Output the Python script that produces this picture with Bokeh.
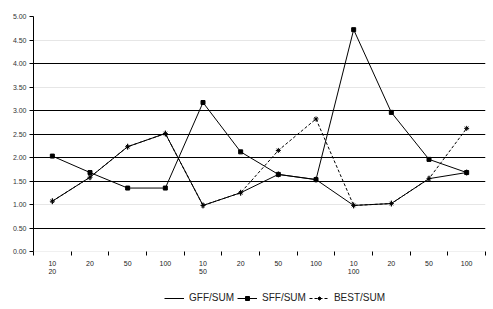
from bokeh.plotting import figure
from bokeh.layouts import column
from bokeh.models import (ColumnDataSource, FixedTicker, NumeralTickFormatter, Legend,
                          LegendItem, Range1d, Grid)
from bokeh.embed import file_html
from bokeh.resources import INLINE

categories = ["10\n20", "20", "50", "100", "10\n50", "20", "50", "100",
              "10\n100", "20", "50", "100"]
gff_sum = [1.07, 1.58, 2.23, 2.51, 0.98, 1.25, 1.64, 1.53, 0.98, 1.02, 1.55, 1.68]
sff_sum = [2.03, 1.68, 1.35, 1.35, 3.17, 2.12, 1.64, 1.53, 4.72, 2.96, 1.96, 1.68]
best_sum = [1.07, 1.58, 2.23, 2.51, 0.98, 1.25, 2.15, 2.82, 0.98, 1.02, 1.55, 2.62]
series_names = ["GFF/SUM", "SFF/SUM", "BEST/SUM"]
y_ticks = [0, 0.5, 1, 1.5, 2, 2.5, 3, 3.5, 4, 4.5, 5]

xs = [i + 0.5 for i in range(len(categories))]
src = ColumnDataSource(dict(x=xs, gff=gff_sum, sff=sff_sum, best=best_sum))

p = figure(width=493, height=285, output_backend="svg", toolbar_location=None,
           x_range=Range1d(0, len(categories)), y_range=Range1d(0, 5),
           min_border_left=33, min_border_right=8, min_border_top=16, min_border_bottom=34)
p.outline_line_color = None
p.background_fill_color = "white"
p.border_fill_color = "white"

# axes
p.xaxis.ticker = FixedTicker(ticks=xs, minor_ticks=[float(i) for i in range(len(categories) + 1)])
p.xaxis.major_label_overrides = {x: c for x, c in zip(xs, categories)}
p.xaxis.major_tick_line_color = None
p.xaxis.major_tick_out = 4
p.xaxis.major_tick_in = 0
p.xaxis.minor_tick_out = 4
p.xaxis.minor_tick_in = 0
p.xaxis.minor_tick_line_color = "black"
p.xaxis.minor_tick_line_width = 1
p.xaxis.axis_line_color = "#f0f0f0"
p.xaxis.major_label_text_font = "Liberation Sans"
p.xaxis.major_label_text_font_size = "7px"
p.xaxis.major_label_text_color = "#222222"
p.xaxis.major_label_standoff = 4

p.yaxis.ticker = FixedTicker(ticks=y_ticks)
p.yaxis.formatter = NumeralTickFormatter(format="0.00")
p.yaxis.minor_tick_line_color = None
p.yaxis.major_tick_out = 4
p.yaxis.major_tick_in = 0
p.yaxis.axis_line_color = "black"
p.yaxis.major_label_text_font = "Liberation Sans"
p.yaxis.major_label_text_font_size = "7px"
p.yaxis.major_label_text_color = "#333333"
p.yaxis.major_label_standoff = 3

# gridlines
p.xgrid.visible = False
p.ygrid.ticker = FixedTicker(ticks=[0.5, 1.5, 2, 2.5, 3, 4])
p.ygrid.grid_line_color = "black"
p.ygrid.grid_line_width = 1
g2 = Grid(dimension=1, ticker=FixedTicker(ticks=[1, 3.5, 4.5]),
          grid_line_color="#e6e6e6", grid_line_width=1)
g3 = Grid(dimension=1, ticker=FixedTicker(ticks=[5]),
          grid_line_color="#8a8a8a", grid_line_width=1)
p.add_layout(g2)
p.add_layout(g3)

# series
styles = [
    dict(col="gff", dash="solid", marker="dash", angle=1.5708, size=6),
    dict(col="sff", dash="solid", marker="square", angle=0.0, size=4),
    dict(col="best", dash="3 2", marker="asterisk", angle=0.0, size=5),
]
for st in styles:
    p.line("x", st["col"], source=src, line_color="black", line_width=1,
           line_dash=st["dash"])
    p.scatter("x", st["col"], source=src, marker=st["marker"], angle=st["angle"],
              size=st["size"], fill_color="black", line_color="black")

# legend strip below the chart (series drawn out of view, only their keys show)
q = figure(width=493, height=24, output_backend="svg", toolbar_location=None,
           x_range=Range1d(0, len(categories)), y_range=Range1d(100, 101),
           min_border_left=0, min_border_right=0, min_border_top=0, min_border_bottom=0)
q.axis.visible = False
q.grid.visible = False
q.outline_line_color = None
items = []
for name, st in zip(series_names, styles):
    lr = q.line("x", st["col"], source=src, line_color="black", line_width=1,
                line_dash=st["dash"])
    mr = q.scatter("x", st["col"], source=src, marker=st["marker"], angle=st["angle"],
                   size=st["size"], fill_color="black", line_color="black")
    items.append(LegendItem(label=name, renderers=[lr, mr]))

legend = Legend(items=items, orientation="horizontal", location=(131, 6),
                label_text_font="Liberation Sans", label_text_font_size="10px",
                label_text_color="#222222", glyph_width=20, glyph_height=10,
                label_standoff=5, spacing=3, padding=0, margin=0,
                label_height=10,
                border_line_color=None, background_fill_alpha=0)
q.add_layout(legend, "center")

open("out.html", "w").write(file_html(column(p, q, spacing=0), INLINE))
